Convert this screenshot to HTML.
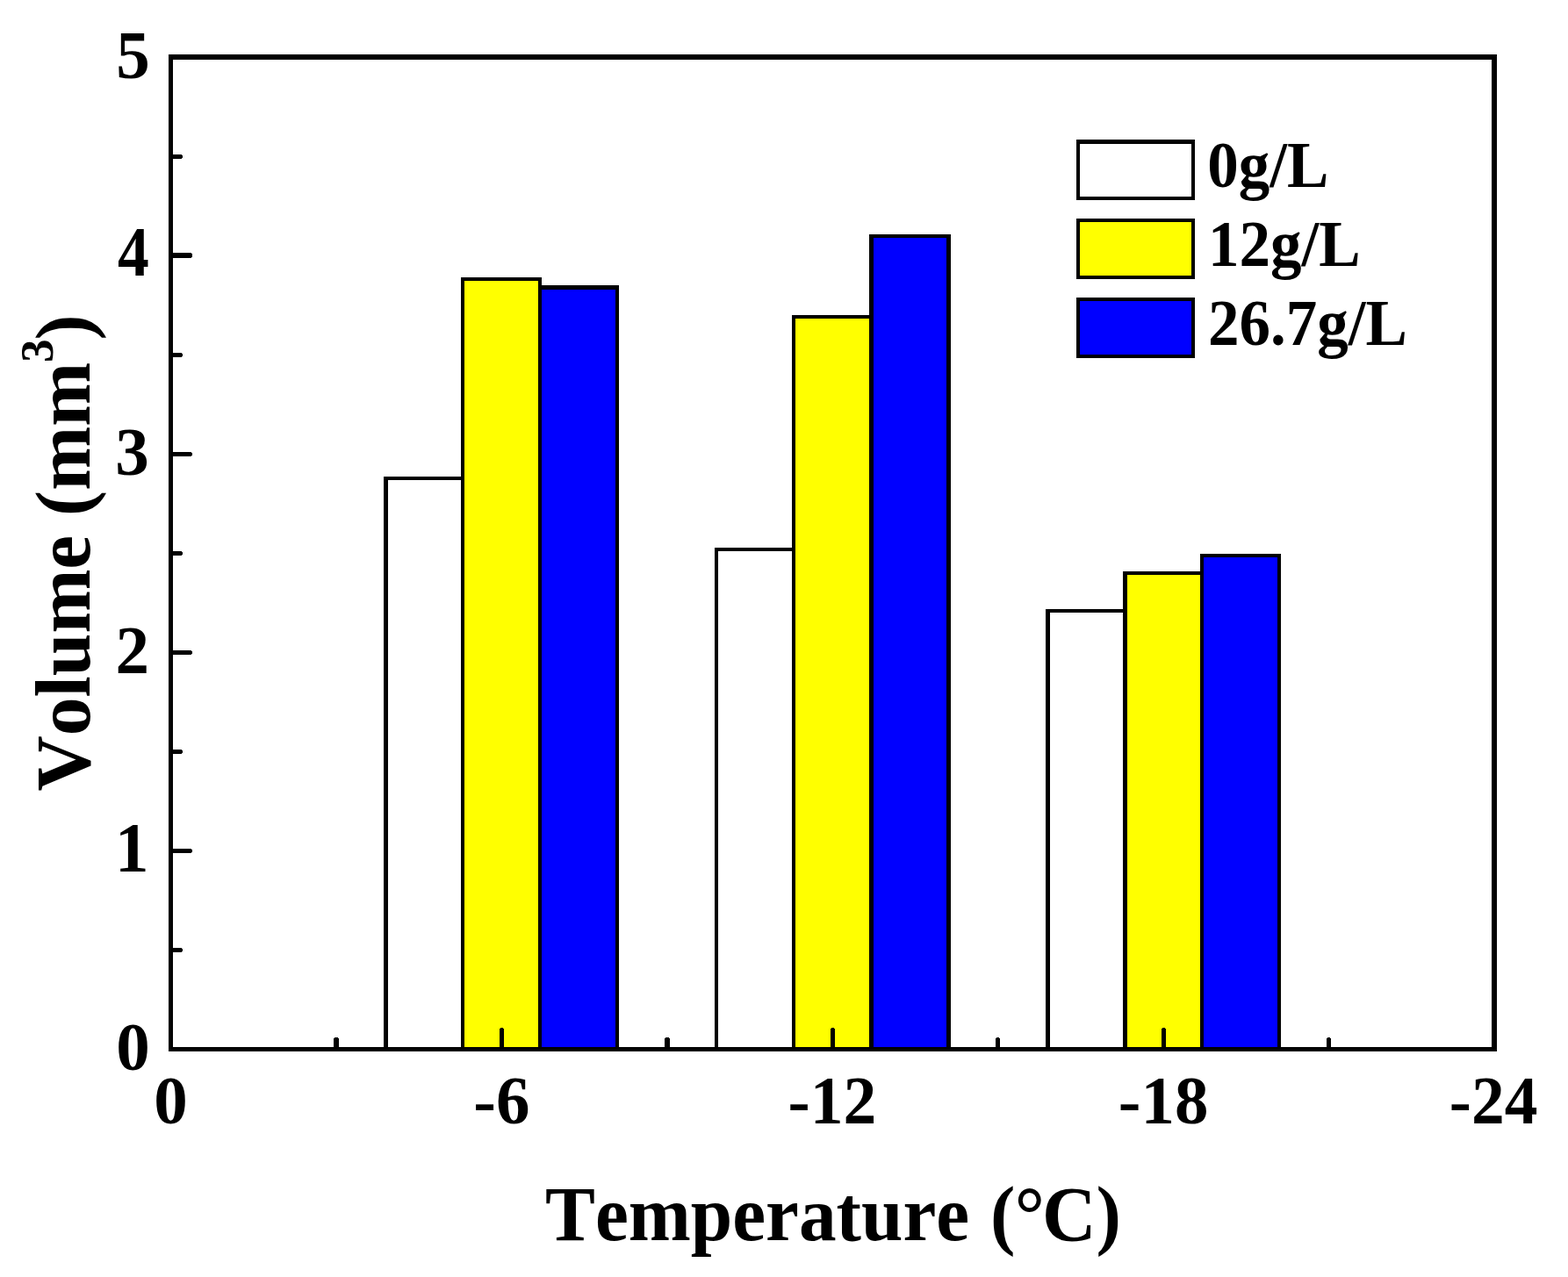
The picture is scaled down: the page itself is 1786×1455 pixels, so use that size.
<!DOCTYPE html>
<html lang="en">
<head>
<meta charset="utf-8">
<title>Volume vs Temperature</title>
<style>
html,body{margin:0;padding:0;background:#fff;}
body{width:1786px;height:1455px;overflow:hidden;}
svg{display:block;}
text{font-family:"Liberation Serif","DejaVu Serif",serif;font-weight:bold;fill:#000;font-kerning:none;font-variant-ligatures:none;}
.tk{font-size:77px;}
.lg{font-size:71px;}
.xt{font-size:85.3px;}
.yt{font-size:87.55px;}
</style>
</head>
<body>
<svg width="1786" height="1455" viewBox="0 0 1786 1455">
<rect x="0" y="0" width="1786" height="1455" fill="#ffffff"/>

<g shape-rendering="crispEdges">
<rect x="437" y="543" width="92" height="652" fill="#000000"/>
<rect x="442" y="547" width="83" height="648" fill="#ffffff"/>
<rect x="525" y="316" width="92" height="879" fill="#000000"/>
<rect x="529" y="320" width="84" height="875" fill="#ffff00"/>
<rect x="613" y="325" width="92" height="870" fill="#000000"/>
<rect x="617" y="330" width="84" height="865" fill="#0000ff"/>
<rect x="814" y="624" width="92" height="571" fill="#000000"/>
<rect x="818" y="628" width="84" height="567" fill="#ffffff"/>
<rect x="902" y="359" width="93" height="836" fill="#000000"/>
<rect x="906" y="363" width="84" height="832" fill="#ffff00"/>
<rect x="990" y="267" width="93" height="928" fill="#000000"/>
<rect x="995" y="271" width="83" height="924" fill="#0000ff"/>
<rect x="1191" y="694" width="93" height="501" fill="#000000"/>
<rect x="1196" y="698" width="83" height="497" fill="#ffffff"/>
<rect x="1279" y="651" width="92" height="544" fill="#000000"/>
<rect x="1284" y="655" width="83" height="540" fill="#ffff00"/>
<rect x="1367" y="631" width="92" height="564" fill="#000000"/>
<rect x="1371" y="635" width="84" height="560" fill="#0000ff"/>
</g>
<g shape-rendering="crispEdges">
<rect x="196" y="176" width="11" height="5" fill="#000000"/>
<rect x="207" y="177" width="1" height="3" fill="#000000"/>
<rect x="196" y="288" width="22" height="6" fill="#000000"/>
<rect x="218" y="289" width="1" height="4" fill="#000000"/>
<rect x="196" y="402" width="11" height="5" fill="#000000"/>
<rect x="207" y="403" width="1" height="3" fill="#000000"/>
<rect x="196" y="515" width="22" height="5" fill="#000000"/>
<rect x="218" y="516" width="1" height="3" fill="#000000"/>
<rect x="196" y="628" width="11" height="5" fill="#000000"/>
<rect x="207" y="629" width="1" height="3" fill="#000000"/>
<rect x="196" y="741" width="22" height="5" fill="#000000"/>
<rect x="218" y="742" width="1" height="3" fill="#000000"/>
<rect x="196" y="854" width="11" height="5" fill="#000000"/>
<rect x="207" y="855" width="1" height="3" fill="#000000"/>
<rect x="196" y="967" width="22" height="5" fill="#000000"/>
<rect x="218" y="968" width="1" height="3" fill="#000000"/>
<rect x="196" y="1080" width="11" height="5" fill="#000000"/>
<rect x="207" y="1081" width="1" height="3" fill="#000000"/>
<rect x="380" y="1183" width="6" height="11" fill="#000000"/>
<rect x="381" y="1182" width="4" height="1" fill="#000000"/>
<rect x="569" y="1172" width="5" height="22" fill="#000000"/>
<rect x="570" y="1171" width="3" height="1" fill="#000000"/>
<rect x="757" y="1183" width="6" height="11" fill="#000000"/>
<rect x="758" y="1182" width="4" height="1" fill="#000000"/>
<rect x="946" y="1172" width="5" height="22" fill="#000000"/>
<rect x="947" y="1171" width="3" height="1" fill="#000000"/>
<rect x="1134" y="1183" width="5" height="11" fill="#000000"/>
<rect x="1135" y="1182" width="3" height="1" fill="#000000"/>
<rect x="1323" y="1172" width="5" height="22" fill="#000000"/>
<rect x="1324" y="1171" width="3" height="1" fill="#000000"/>
<rect x="1511" y="1183" width="5" height="11" fill="#000000"/>
<rect x="1512" y="1182" width="3" height="1" fill="#000000"/>
</g>
<g shape-rendering="crispEdges">
<rect x="192" y="62" width="1513" height="6" fill="#000000"/>
<rect x="192" y="1193" width="1513" height="5" fill="#000000"/>
<rect x="192" y="62" width="5" height="1136" fill="#000000"/>
<rect x="1699" y="62" width="6" height="1136" fill="#000000"/>
</g>
<text class="tk" transform="translate(170.70,1219.10) scale(1,1.028)" text-anchor="end">0</text>
<text class="tk" transform="translate(169.60,993.00) scale(1,1.04)" text-anchor="end">1</text>
<text class="tk" transform="translate(170.00,766.90) scale(1,1.028)" text-anchor="end">2</text>
<text class="tk" transform="translate(169.80,540.80) scale(1,1.028)" text-anchor="end">3</text>
<text class="tk" transform="translate(169.70,314.30) scale(0.93,1.04)" text-anchor="end">4</text>
<text class="tk" transform="translate(170.70,88.60) scale(1,1.028)" text-anchor="end">5</text>
<text class="tk" transform="translate(194.50,1280.00) scale(1,1.028)" text-anchor="middle">0</text>
<text class="tk" transform="translate(571.38,1280.00) scale(1,1.028)" text-anchor="middle">-6</text>
<text class="tk" transform="translate(947.95,1280.00) scale(0.982,1.028)" text-anchor="middle">-12</text>
<text class="tk" transform="translate(1325.12,1280.00) scale(1,1.028)" text-anchor="middle">-18</text>
<text class="tk" transform="translate(1701.10,1280.00) scale(0.98,1.028)" text-anchor="middle">-24</text>
<g shape-rendering="crispEdges">
<rect x="1226" y="159" width="135" height="69" fill="#000000"/>
<rect x="1230" y="164" width="127" height="60" fill="#ffffff"/>
</g>
<text class="lg" transform="translate(1375.20,213.00) scale(1,1.03)" text-anchor="start">0g/L</text>
<g shape-rendering="crispEdges">
<rect x="1226" y="249" width="135" height="69" fill="#000000"/>
<rect x="1230" y="253" width="127" height="61" fill="#ffff00"/>
</g>
<text class="lg" transform="translate(1376.00,303.00) scale(1,1.03)" text-anchor="start">12g/L</text>
<g shape-rendering="crispEdges">
<rect x="1226" y="339" width="135" height="69" fill="#000000"/>
<rect x="1230" y="343" width="127" height="61" fill="#0000ff"/>
</g>
<text class="lg" transform="translate(1376.00,393.00) scale(1,1.03)" text-anchor="start">26.7g/L</text>
<text class="xt" transform="translate(621.0,1413.2) scale(1,1.032)">Temperature<tspan dx="2.6"> (</tspan><tspan dx="-0.7">°</tspan><tspan dx="-2.7">C</tspan><tspan dx="-0.2">)</tspan></text>
<text class="yt" transform="translate(102,629.9) rotate(-90) scale(1,1.012)" text-anchor="middle">Volume (mm<tspan font-size="53" dy="-41.8">3</tspan><tspan dy="41.8" dx="-1">)</tspan></text>
</svg>
</body>
</html>
